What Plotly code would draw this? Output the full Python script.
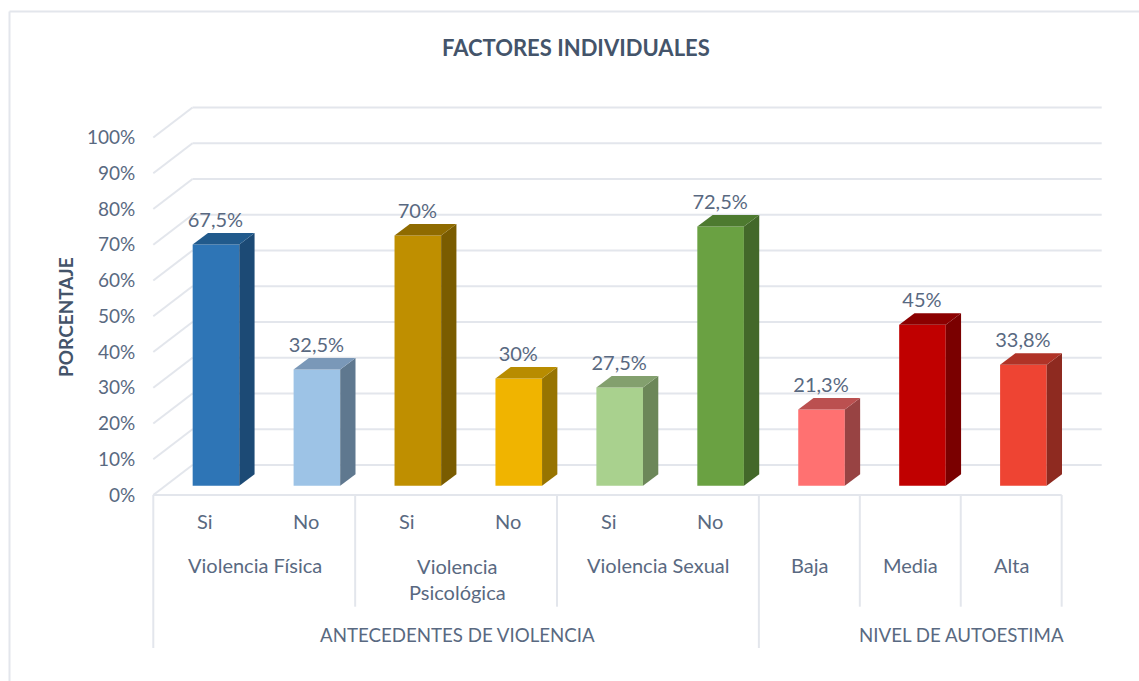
"""Factores individuales: Excel-style 3D column chart rebuilt with bars and filled polygons."""
import plotly.graph_objects as go

# --- data ---------------------------------------------------------------- #
CATEGORIES = ["Si", "No", "Si", "No", "Si", "No", "Baja", "Media", "Alta"]
VALUES = [67.5, 32.5, 70, 30, 27.5, 72.5, 21.3, 45, 33.8]
VALUE_LABELS = ["67,5%", "32,5%", "70%", "30%", "27,5%", "72,5%", "21,3%", "45%", "33,8%"]
Y_TICKS = [0, 10, 20, 30, 40, 50, 60, 70, 80, 90, 100]

FRONT_COLORS = ["#2E75B6", "#9DC3E6", "#BF8F00", "#F0B400", "#A9D18E", "#6AA142", "#FF7171", "#C00000", "#EE4433"]
SIDE_COLORS = ["#1C4A75", "#5F788F", "#7A5C00", "#977400", "#6C8759", "#43682A", "#984343", "#7A0000", "#8E2A20"]
TOP_COLORS = ["#215A8C", "#7A98B8", "#8F6B00", "#B88C00", "#83A06E", "#4D7A2F", "#BB5050", "#8B0000", "#B03327"]

# (label, first category, last category)
GROUPS = [
    ("Violencia Física", 0, 1),
    ("Violencia<br>Psicológica", 2, 3),
    ("Violencia Sexual", 4, 5),
]
SUPER_GROUPS = [
    ("ANTECEDENTES DE VIOLENCIA", 0, 5),
    ("NIVEL DE AUTOESTIMA", 7, 8),
]

# --- style / geometry ----------------------------------------------------- #
WIDTH, HEIGHT = 1139, 681
FONT = "Lato, Carlito, sans-serif"
TEXT = "#596981"
GRID = "#E3E6EC"

PX_PER_CAT = 100.93
PX_PER_PCT = 3.575
AXIS_LEFT_PX = 153.3
AXIS_BASE_PX = 495.0


def cat(px):
    """Horizontal pixel to category units."""
    return (px - AXIS_LEFT_PX) / PX_PER_CAT - 0.5


def pct(px):
    """Vertical pixel to percent units."""
    return (AXIS_BASE_PX - px) / PX_PER_PCT


WALL_DX = 39.2 / PX_PER_CAT
WALL_DY = 30.0 / PX_PER_PCT
BAR_SHIFT = 12.2 / PX_PER_CAT
BAR_WIDTH = 46.6 / PX_PER_CAT
BAR_LIFT = 9.3 / PX_PER_PCT
DEPTH_X = 15.3 / PX_PER_CAT
DEPTH_Y = 11.5 / PX_PER_PCT
LABEL_GAP = 22.7 / PX_PER_PCT

SEP_SHORT = pct(606.7)
SEP_LONG = pct(648)
ROW_SI_NO = pct(521)
ROW_GROUP = pct(565)
ROW_SUPER = pct(635)

x_left = [i + BAR_SHIFT - BAR_WIDTH / 2 for i in range(len(VALUES))]
x_right = [i + BAR_SHIFT + BAR_WIDTH / 2 for i in range(len(VALUES))]
y_top = [v + BAR_LIFT for v in VALUES]

fig = go.Figure()

# front faces
fig.add_trace(go.Bar(
    x=[i + BAR_SHIFT for i in range(len(VALUES))],
    y=VALUES,
    base=BAR_LIFT,
    width=BAR_WIDTH,
    marker=dict(color=FRONT_COLORS, line=dict(width=0)),
    hoverinfo="skip",
))

# side and top faces, offset from the same values
for i in range(len(VALUES)):
    fig.add_trace(go.Scatter(
        x=[x_right[i], x_right[i] + DEPTH_X, x_right[i] + DEPTH_X, x_right[i], x_right[i]],
        y=[BAR_LIFT, BAR_LIFT + DEPTH_Y, y_top[i] + DEPTH_Y, y_top[i], BAR_LIFT],
        mode="lines", fill="toself", fillcolor=SIDE_COLORS[i],
        line=dict(width=0), hoverinfo="skip",
    ))
    fig.add_trace(go.Scatter(
        x=[x_left[i], x_left[i] + DEPTH_X, x_right[i] + DEPTH_X, x_right[i], x_left[i]],
        y=[y_top[i], y_top[i] + DEPTH_Y, y_top[i] + DEPTH_Y, y_top[i], y_top[i]],
        mode="lines", fill="toself", fillcolor=TOP_COLORS[i],
        line=dict(width=0), hoverinfo="skip",
    ))

# value labels
fig.add_trace(go.Scatter(
    x=[i + BAR_SHIFT - 0.005 for i in range(len(VALUES))],
    y=[t + LABEL_GAP for t in y_top],
    mode="text",
    text=VALUE_LABELS,
    textposition="middle center",
    textfont=dict(family=FONT, size=20, color=TEXT),
    hoverinfo="skip",
))

# gridlines on the back wall and side wall, axis and separators
shapes = []
grid_line = dict(color=GRID, width=2)
right_end = cat(1101.7)
for t in Y_TICKS:
    shapes.append(dict(type="line", layer="below", x0=-0.5, x1=-0.5 + WALL_DX, y0=t, y1=t + WALL_DY, line=grid_line))
    shapes.append(dict(type="line", layer="below", x0=-0.5 + WALL_DX, x1=right_end, y0=t + WALL_DY, y1=t + WALL_DY, line=grid_line))
shapes.append(dict(type="line", layer="below", x0=-0.5, x1=len(VALUES) - 0.5, y0=0, y1=0, line=grid_line))

long_edges = {-0.5, 5.5}
for edge in [-0.5, 1.5, 3.5, 5.5, 6.5, 7.5, 8.5]:
    bottom = SEP_LONG if edge in long_edges else SEP_SHORT
    shapes.append(dict(type="line", layer="below", x0=edge, x1=edge, y0=0, y1=bottom, line=grid_line))

# chart frame: only top and left edges are inside the picture
frame = dict(color=GRID, width=2)
shapes.append(dict(type="line", xref="paper", yref="paper", x0=9.5 / WIDTH, x1=1, y0=1 - 11.5 / HEIGHT, y1=1 - 11.5 / HEIGHT, line=frame))
shapes.append(dict(type="line", xref="paper", yref="paper", x0=9.5 / WIDTH, x1=9.5 / WIDTH, y0=0, y1=1 - 11.5 / HEIGHT, line=frame))

# category labels
annotations = []


def label(text, x, y, size=20):
    annotations.append(dict(
        text=text, x=x, y=y, xref="x", yref="y", showarrow=False,
        xanchor="center", yanchor="middle", align="center",
        font=dict(family=FONT, size=size, color=TEXT),
    ))


for i, name in enumerate(CATEGORIES):
    if i < 6:
        label(name, i + 0.012, ROW_SI_NO)
    else:
        label(name, i + 0.006, ROW_GROUP)
for name, first, last in GROUPS:
    label(name, (first + last) / 2 + 0.01, pct(578.5) if "<br>" in name else ROW_GROUP)
for name, first, last in SUPER_GROUPS:
    label(name, (first + last) / 2 + 0.01, ROW_SUPER, size=18.7)

annotations.append(dict(
    text="<b>PORCENTAJE</b>", x=cat(65), y=pct(317), xref="x", yref="y", showarrow=False,
    textangle=-90, xanchor="center", yanchor="middle",
    font=dict(family=FONT, size=19, color="#44546A"),
))
annotations.append(dict(
    text="<b>FACTORES INDIVIDUALES</b>", x=cat(576), y=pct(47), xref="x", yref="y", showarrow=False,
    xanchor="center", yanchor="middle",
    font=dict(family=FONT, size=22, color="#44546A"),
))

fig.update_layout(
    width=WIDTH,
    height=HEIGHT,
    margin=dict(l=0, r=0, t=0, b=0),
    paper_bgcolor="white",
    plot_bgcolor="white",
    showlegend=False,
    shapes=shapes,
    annotations=annotations,
    xaxis=dict(visible=False, range=[cat(0), cat(WIDTH)], domain=[0, 1]),
    yaxis=dict(
        range=[pct(HEIGHT), pct(0)],
        domain=[0, 1],
        anchor="free",
        position=AXIS_LEFT_PX / WIDTH,
        tickmode="array",
        tickvals=Y_TICKS,
        ticktext=[f"{t}%" for t in Y_TICKS],
        ticks="",
        ticklabelstandoff=18,
        showgrid=False,
        zeroline=False,
        showline=False,
        tickfont=dict(family=FONT, size=19, color=TEXT),
    ),
)

# the page's default body margin would push the chart 8px off
fig.write_html(
    "out.html",
    config=dict(displayModeBar=False),
    post_script="document.body.style.margin='0';",
)
